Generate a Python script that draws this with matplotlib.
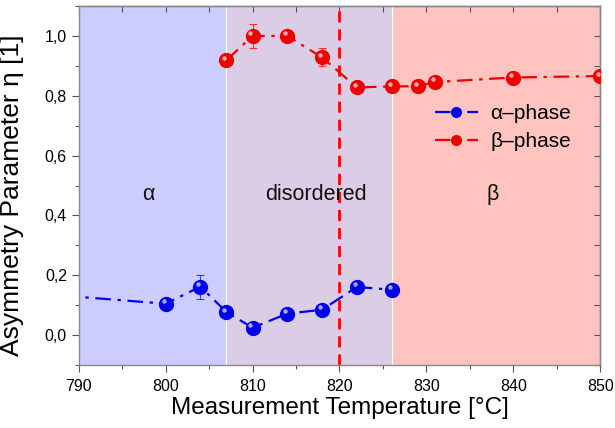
import matplotlib
matplotlib.use("Agg")
import matplotlib.pyplot as plt
import matplotlib.transforms as mtransforms
from matplotlib.ticker import MultipleLocator, FuncFormatter

plt.rcParams['font.family'] = ['Liberation Sans', 'DejaVu Sans']

# data
alpha_T = [780, 800, 804, 807, 810, 814, 818, 822, 826]
alpha_eta = [0.151, 0.105, 0.162, 0.077, 0.025, 0.072, 0.085, 0.161, 0.152]
alpha_err = [0.0, 0.0, 0.04, 0.0, 0.0, 0.02, 0.0, 0.0, 0.0]

beta_T = [807, 810, 814, 818, 822, 826, 829, 831, 840, 850]
beta_eta = [0.919, 1.0, 1.0, 0.928, 0.828, 0.831, 0.832, 0.846, 0.861, 0.866]
beta_err = [0.0, 0.04, 0.0, 0.03, 0.0, 0.0, 0.0, 0.0, 0.0, 0.0]

regions = [(790, 807, '#ccccff', '\u03b1', 798),
           (807, 826, '#dccde6', 'disordered', 817.3),
           (826, 850, '#ffc4bf', '\u03b2', 837.6)]
transition_T = 820

fig = plt.figure(figsize=(6.15, 4.28), dpi=100)
ax = fig.add_axes([0.128, 0.147, 0.848, 0.839])
ax.set_xlim(790, 850)
ax.set_ylim(-0.1, 1.1)

for x0, x1, c, lab, xt in regions:
    ax.axvspan(x0, x1, color=c, lw=0, zorder=0)
    ax.text(xt, 0.47, lab, ha='center', va='center', fontsize=15.5, color='#111111')
for x in [807, 826]:
    ax.axvline(x, color='white', lw=0.8, zorder=0.5)

ax.axvline(transition_T, color='red', lw=2, ls=(0, (4, 2.5)), zorder=1)

def series(T, eta, err, col, hl, label):
    ax.errorbar(T, eta, yerr=err, fmt='none',
                ecolor=col, elinewidth=0.8, capsize=3, capthick=0.8, zorder=2, alpha=0.7)
    ax.plot(T, eta, color=col, lw=1.6, ls=(0, (7, 3, 1.5, 3)), marker='o', ms=10,
            mfc=col, mec=col, zorder=3, label=label, clip_on=True)
    off = mtransforms.offset_copy(ax.transData, fig=fig, x=-1.5, y=1.8, units='points')
    ax.plot(T, eta, ls='none', marker='o', ms=3.2, mfc=hl, mec='none',
            alpha=0.85, zorder=4, transform=off)

series(alpha_T, alpha_eta, alpha_err, '#0000ee', '#c8c8ff', '\u03b1\u2013phase')
series(beta_T, beta_eta, beta_err, '#ee0000', '#ffc8c8', '\u03b2\u2013phase')

ax.xaxis.set_major_locator(MultipleLocator(10))
ax.xaxis.set_minor_locator(MultipleLocator(5))
ax.yaxis.set_major_locator(MultipleLocator(0.2))
ax.yaxis.set_minor_locator(MultipleLocator(0.1))
ax.yaxis.set_major_formatter(FuncFormatter(lambda v, p: f"{v:.1f}".replace('.', ',').replace('-0,0', '0,0')))
ax.tick_params(which='both', direction='out', labelsize=11.5, color='#555555', width=0.8)
ax.tick_params(which='major', length=5)
ax.tick_params(which='minor', length=3)
ax.tick_params(axis='x', pad=5)
ax.set_yticks([0.0, 0.2, 0.4, 0.6, 0.8, 1.0])

ax2 = ax.secondary_xaxis('top')
ax2.xaxis.set_major_locator(MultipleLocator(5))
ax2.tick_params(direction='in', length=4, labeltop=False, color='#555555')
ax3 = ax.secondary_yaxis('right')
ax3.yaxis.set_major_locator(MultipleLocator(0.1))
ax3.tick_params(direction='in', length=4, labelright=False, color='#555555')
for a in (ax, ax2, ax3):
    for s in a.spines.values():
        s.set_color('#888888')
        s.set_linewidth(1.0)

ax.set_xlabel('Measurement Temperature [\u00b0C]', fontsize=17.5, labelpad=2)
ax.set_ylabel('Asymmetry Parameter \u03b7 [1]', fontsize=19)
ax.yaxis.set_label_coords(-0.104, 0.474)

leg = ax.legend(loc='upper left', bbox_to_anchor=(0.683, 0.727), frameon=False, fontsize=15,
                borderpad=0, borderaxespad=0,
                handlelength=2.07, handletextpad=0.58, labelspacing=0.45, markerscale=0.7)

fig.savefig('out.png', dpi=100)
